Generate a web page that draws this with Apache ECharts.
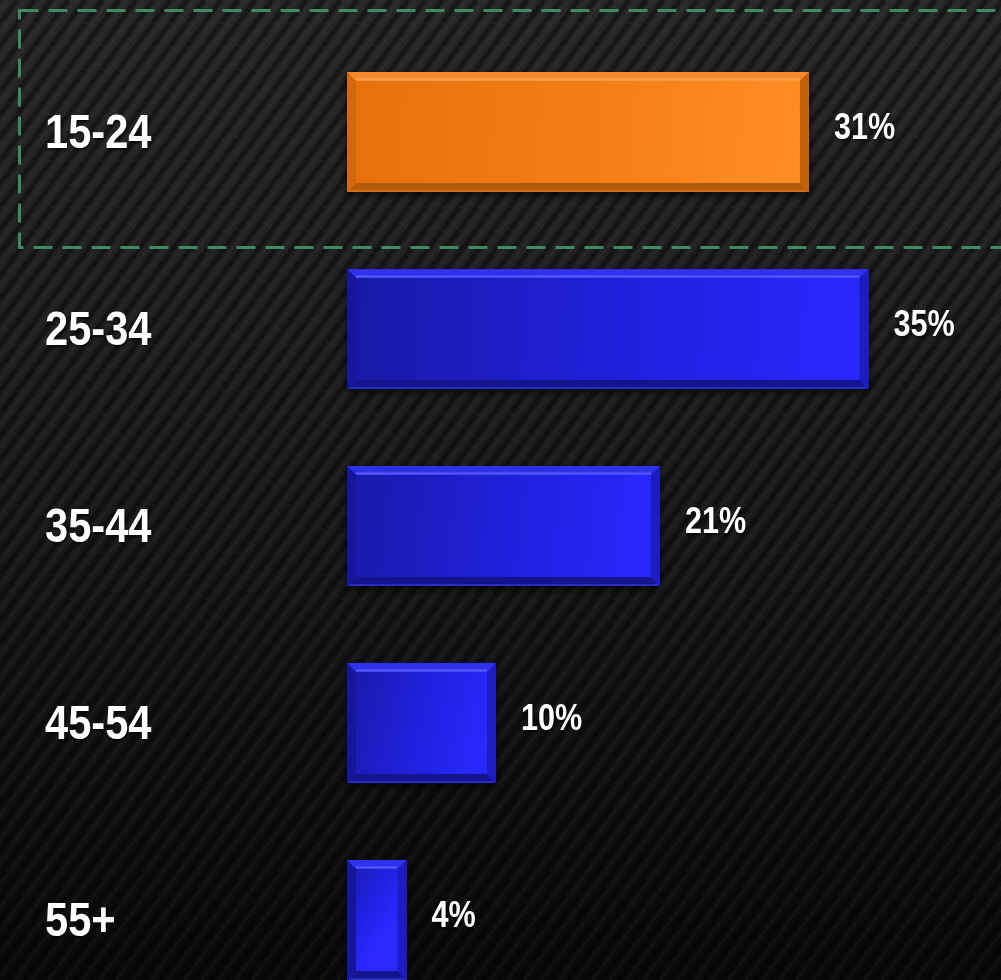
<!DOCTYPE html>
<html>
<head>
<meta charset="utf-8">
<script src="https://cdn.jsdelivr.net/npm/echarts@6/dist/echarts.min.js"></script>
<style>
  html, body { margin: 0; padding: 0; background: #111; }
  #chart { width: 1001px; height: 980px; }
</style>
</head>
<body>
<div id="chart"></div>
<script>
// ---- data ----
const categories = ['15-24', '25-34', '35-44', '45-54', '55+'];
const values = [31, 35, 21, 10, 4];
const valueLabels = ['31%', '35%', '21%', '10%', '4%'];
const highlightIndex = 0;

// ---- styles ----
const FONT = "'Liberation Sans', Arial, sans-serif";
const NARROW = 0.85;
const palettes = {
  blue: {
    main: ['#1919a6', '#2020de', '#2828ff'],
    top: '#3030f0', topLine: '#5858ff',
    bottom: '#14148c', bottomLine: '#2a2ac4',
    left: '#16169a', right: '#1c1cc0'
  },
  orange: {
    main: ['#e6700c', '#f47e16', '#ff8d26'],
    top: '#f58a2c', topLine: '#ffa24e',
    bottom: '#b45a0a', bottomLine: '#d4701a',
    left: '#d2680a', right: '#c2600a'
  }
};

// stripe pattern
function makeStripes() {
  const w = 17, h = 23;
  const c = document.createElement('canvas');
  c.width = w; c.height = h;
  const ctx = c.getContext('2d');
  for (let k = -1; k <= 1; k++) {
    ctx.strokeStyle = 'rgba(0,0,0,0.38)';
    ctx.lineWidth = 5;
    ctx.beginPath();
    ctx.moveTo(k * w, h);
    ctx.lineTo(k * w + w, 0);
    ctx.stroke();
    ctx.strokeStyle = 'rgba(255,255,255,0.04)';
    ctx.lineWidth = 2;
    ctx.beginPath();
    ctx.moveTo(k * w + 8, h);
    ctx.lineTo(k * w + w + 8, 0);
    ctx.stroke();
  }
  return c;
}

const textShadow = {
  textShadowColor: 'rgba(0,0,0,0.7)', textShadowBlur: 3, textShadowOffsetX: 1, textShadowOffsetY: 2
};

const chart = echarts.init(document.getElementById('chart'), null, { renderer: 'canvas' });

function renderItem(params, api) {
  const idx = api.value(1);
  const val = api.value(0);
  const start = api.coord([0, idx]);
  const end = api.coord([val, idx]);
  const h = 120;
  const x0 = start[0], x1 = end[0];
  const y0 = start[1] - h / 2, y1 = y0 + h;
  const w = x1 - x0;
  const b = Math.min(9, w / 2 - 1);
  const p = params.dataIndex === highlightIndex ? palettes.orange : palettes.blue;
  const mainFill = new echarts.graphic.LinearGradient(0, 0, 1, 0.3, [
    { offset: 0, color: p.main[0] },
    { offset: 0.55, color: p.main[1] },
    { offset: 1, color: p.main[2] }
  ]);
  return {
    type: 'group',
    children: [
      { type: 'rect', shape: { x: x0, y: y0, width: w, height: h },
        style: { fill: mainFill, shadowBlur: 8, shadowColor: 'rgba(0,0,0,0.7)', shadowOffsetY: 3 } },
      { type: 'polygon', shape: { points: [[x0, y0], [x1, y0], [x1 - b, y0 + b], [x0 + b, y0 + b]] },
        style: { fill: p.top } },
      { type: 'line', shape: { x1: x0 + b, y1: y0 + b - 1.5, x2: x1 - b, y2: y0 + b - 1.5 },
        style: { stroke: p.topLine, lineWidth: 2 } },
      { type: 'polygon', shape: { points: [[x0, y1], [x1, y1], [x1 - b, y1 - b], [x0 + b, y1 - b]] },
        style: { fill: p.bottom } },
      { type: 'line', shape: { x1: x0 + 2, y1: y1 - 1, x2: x1 - 2, y2: y1 - 1 },
        style: { stroke: p.bottomLine, lineWidth: 2 } },
      { type: 'polygon', shape: { points: [[x0, y0], [x0 + b, y0 + b], [x0 + b, y1 - b], [x0, y1]] },
        style: { fill: p.left } },
      { type: 'polygon', shape: { points: [[x1, y0], [x1 - b, y0 + b], [x1 - b, y1 - b], [x1, y1]] },
        style: { fill: p.right } },
      // value label
      { type: 'text', x: x1 + 25, y: start[1] - 3, scaleX: NARROW,
        style: Object.assign({ text: valueLabels[params.dataIndex], fill: '#ffffff',
          font: 'bold 36px ' + FONT, verticalAlign: 'middle', align: 'left' }, textShadow) },
      // category label
      { type: 'text', x: 45, y: start[1] + 2, scaleX: NARROW,
        style: Object.assign({ text: categories[params.dataIndex], fill: '#ffffff',
          font: 'bold 49px ' + FONT, verticalAlign: 'middle', align: 'left' }, textShadow) }
    ]
  };
}

const option = {
  backgroundColor: new echarts.graphic.LinearGradient(0, 0, 0, 1, [
    { offset: 0, color: '#272727' },
    { offset: 0.5, color: '#1b1b1b' },
    { offset: 1, color: '#0a0a0a' }
  ]),
  animation: false,
  graphic: [
    { type: 'rect', z: -10, silent: true,
      shape: { x: 0, y: 0, width: 1001, height: 980 },
      style: { fill: { image: makeStripes(), repeat: 'repeat' } } },
    { type: 'rect', z: 100, silent: true,
      shape: { x: 19.5, y: 10.5, width: 1000, height: 237 },
      style: { fill: 'none', stroke: '#3f8a63', lineWidth: 3, lineDash: [19, 10] } }
  ],
  grid: { left: 347, right: 58, top: 33.5, bottom: -38.5, containLabel: false, outerBoundsMode: 'none' },
  xAxis: {
    type: 'value', min: 0, max: 40, show: false
  },
  yAxis: {
    type: 'category', data: categories, inverse: true,
    axisLine: { show: false }, axisTick: { show: false }, splitLine: { show: false },
    axisLabel: { show: false }
  },
  series: [{
    type: 'custom',
    renderItem: renderItem,
    clip: false,
    encode: { x: 0, y: 1 },
    data: values.map((v, i) => [v, i])
  }]
};
chart.setOption(option);
</script>
</body>
</html>
